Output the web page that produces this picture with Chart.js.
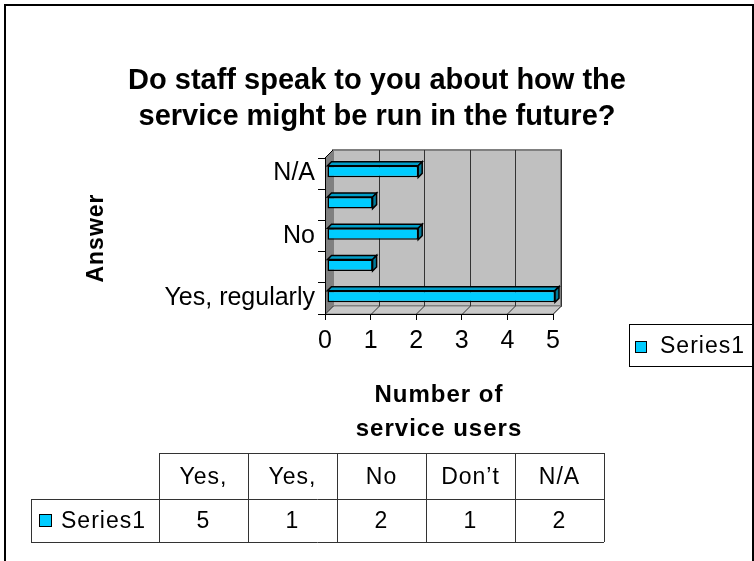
<!DOCTYPE html>
<html>
<head>
<meta charset="utf-8">
<script src="https://cdn.jsdelivr.net/npm/chart.js@4/dist/chart.umd.min.js"></script>
<style>
  html, body { margin: 0; padding: 0; background: #fff; overflow: hidden; }
  #wrap { width: 754px; height: 561px; position: relative; }
</style>
</head>
<body>
<div id="wrap"><canvas id="survey" width="754" height="561"></canvas></div>
<script>
// answers, bottom to top on the bar axis
const categories = ['Yes, regularly', 'Yes, sometimes', 'No', 'Don\u2019t know', 'N/A'];
// first line of each answer as it shows in the table header
const tableHeads = ['Yes,', 'Yes,', 'No', 'Don\u2019t', 'N/A'];
const series1 = [5, 1, 2, 1, 2];
const valueTicks = [0, 1, 2, 3, 4, 5];

const titleLines = ['Do staff speak to you about how the', 'service might be run in the future?'];
const xTitleLines = ['Number of', 'service users'];
const yTitle = 'Answer';
const seriesName = 'Series1';

const FONT = "'Liberation Sans', Arial, sans-serif";
const D = 8;          // depth of the back wall
const SHIFT = 2;      // bars sit a little behind the front plane
const BAR_D = 4;      // bar thickness in depth
const CYAN = '#00ccff';

function poly(ctx, pts, fill, stroke, lw) {
  ctx.beginPath();
  pts.forEach((p, i) => i ? ctx.lineTo(p[0], p[1]) : ctx.moveTo(p[0], p[1]));
  ctx.closePath();
  if (fill) { ctx.fillStyle = fill; ctx.fill(); }
  if (stroke) { ctx.strokeStyle = stroke; ctx.lineWidth = lw || 1; ctx.stroke(); }
}

function line(ctx, x1, y1, x2, y2, color, lw) {
  ctx.beginPath();
  ctx.moveTo(x1, y1);
  ctx.lineTo(x2, y2);
  ctx.strokeStyle = color;
  ctx.lineWidth = lw || 1;
  ctx.stroke();
}

// walls, floor and gridlines behind everything
const frame3d = {
  id: 'frame3d',
  beforeDraw(chart) {
    const { ctx, chartArea: a, scales: { x } } = chart;
    ctx.save();
    ctx.fillStyle = '#fff';
    ctx.fillRect(0, 0, chart.width, chart.height);

    // back wall
    ctx.fillStyle = '#c0c0c0';
    ctx.fillRect(a.left + D, a.top - D, a.width, a.height);
    ctx.strokeStyle = '#808080';
    ctx.lineWidth = 2;
    ctx.strokeRect(a.left + D, a.top - D, a.width, a.height);

    // floor
    poly(ctx, [[a.left, a.bottom], [a.left + D, a.bottom - D], [a.right + D, a.bottom - D], [a.right, a.bottom]], '#c8c8c8', '#808080');
    // side wall
    poly(ctx, [[a.left, a.top], [a.left + D, a.top - D], [a.left + D, a.bottom - D], [a.left, a.bottom]], '#808080', null);
    line(ctx, a.left, a.top, a.left + D, a.top - D, '#000');

    valueTicks.forEach(v => {
      const px = Math.round(x.getPixelForValue(v)) + 0.5;
      if (v > 0) line(ctx, px + D, a.top - D, px + D, a.bottom - D, '#333');
      line(ctx, px, a.bottom, px + D, a.bottom - D, '#333');
    });
    ctx.restore();
  },
  beforeDatasetsDraw(chart) {
    chart.ctx.save();
    chart.ctx.translate(SHIFT, -SHIFT);
  },
  afterDatasetsDraw(chart) {
    const ctx = chart.ctx;
    // top and end faces of each bar
    chart.getDatasetMeta(0).data.forEach(bar => {
      const { x, y, base, height } = bar.getProps(['x', 'y', 'base', 'height'], true);
      const t = y - height / 2, b = y + height / 2;
      poly(ctx, [[base, t], [base + BAR_D, t - BAR_D], [x + BAR_D, t - BAR_D], [x, t]], '#009ec8', '#000', 1.5);
      poly(ctx, [[x, t], [x + BAR_D, t - BAR_D], [x + BAR_D, b - BAR_D], [x, b]], '#007a99', '#000', 1.5);
    });
    ctx.restore();
  }
};

// title, axis titles, legend and data table
const annotations = {
  id: 'annotations',
  afterDraw(chart) {
    const { ctx } = chart;
    ctx.save();
    ctx.fillStyle = '#000';
    ctx.textAlign = 'center';
    ctx.textBaseline = 'middle';

    ctx.font = 'bold 29px ' + FONT;
    titleLines.forEach((t, i) => ctx.fillText(t, 377, 81 + i * 36));

    ctx.font = 'bold 24px ' + FONT;
    ctx.letterSpacing = '1px';
    xTitleLines.forEach((t, i) => ctx.fillText(t, 439, 395 + i * 34));

    ctx.save();
    ctx.font = 'bold 23px ' + FONT;
    ctx.translate(97, 238);
    ctx.rotate(-Math.PI / 2);
    ctx.fillText(yTitle, 0, 0);
    ctx.restore();

    // legend
    ctx.strokeStyle = '#000';
    ctx.lineWidth = 1;
    ctx.strokeRect(629.5, 324.5, 140, 42);
    ctx.fillStyle = CYAN;
    ctx.fillRect(635.5, 341.5, 11, 11);
    ctx.strokeRect(635.5, 341.5, 11, 11);
    ctx.fillStyle = '#000';
    ctx.textAlign = 'left';
    ctx.font = '23px ' + FONT;
    ctx.fillText(seriesName, 660, 347);

    // data table
    const left = 31, first = 159, colW = 89, top = 453, mid = 499, bot = 542;
    const right = first + colW * categories.length;
    line(ctx, first, top + 0.5, right, top + 0.5, '#333');
    line(ctx, left, mid + 0.5, right, mid + 0.5, '#333');
    line(ctx, left, bot + 0.5, right, bot + 0.5, '#333');
    line(ctx, left + 0.5, mid, left + 0.5, bot, '#333');
    for (let i = 0; i <= categories.length; i++) {
      const cx = first + i * colW + 0.5;
      line(ctx, cx, top, cx, bot, '#333');
    }
    ctx.textAlign = 'center';
    categories.forEach((c, i) => {
      const cx = first + i * colW + colW / 2;
      ctx.fillText(tableHeads[i], cx, (top + mid) / 2 + 2);
      ctx.fillText(String(series1[i]), cx, (mid + bot) / 2 + 1);
    });
    ctx.fillStyle = CYAN;
    ctx.fillRect(39.5, 514.5, 12, 12);
    ctx.strokeStyle = '#000';
    ctx.strokeRect(39.5, 514.5, 12, 12);
    ctx.fillStyle = '#000';
    ctx.textAlign = 'left';
    ctx.fillText(seriesName, 61, 522);
    ctx.letterSpacing = '0px';

    // outer frame
    ctx.lineWidth = 2;
    ctx.strokeRect(5, 5, 748, 600);
    ctx.restore();
  }
};

new Chart(document.getElementById('survey'), {
  type: 'bar',
  data: {
    labels: categories,
    datasets: [{
      label: seriesName,
      data: series1,
      backgroundColor: CYAN,
      borderColor: '#000',
      borderWidth: 1.5,
      borderSkipped: false,
      categoryPercentage: 1,
      barPercentage: 0.37,
      clip: false
    }]
  },
  options: {
    indexAxis: 'y',
    responsive: false,
    animation: false,
    events: [],
    layout: { padding: { top: 158, right: 201, left: 0, bottom: 0 } },
    plugins: { legend: { display: false }, title: { display: false }, tooltip: { enabled: false } },
    scales: {
      y: {
        reverse: true,
        afterFit(s) { s.width = 325; },
        grid: { offset: true, drawOnChartArea: false, color: '#000', tickLength: 7 },
        border: { color: '#000', width: 1 },
        ticks: {
          autoSkip: false,
          padding: 3,
          color: '#000',
          font: { family: FONT, size: 25 },
          callback(v) { return v % 2 === 0 ? this.getLabelForValue(v) : ''; }
        }
      },
      x: {
        min: valueTicks[0],
        max: valueTicks[valueTicks.length - 1],
        afterFit(s) { s.height = 247; },
        afterBuildTicks(s) { s.ticks = valueTicks.map(v => ({ value: v })); },
        grid: { drawOnChartArea: false, color: '#000', tickLength: 6 },
        border: { color: '#000', width: 1 },
        ticks: { padding: 6, color: '#000', font: { family: FONT, size: 25 } }
      }
    }
  },
  plugins: [frame3d, annotations]
});
</script>
</body>
</html>
